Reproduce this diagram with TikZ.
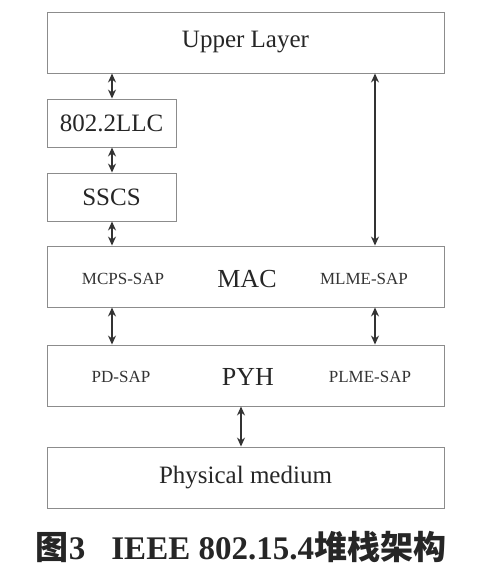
\documentclass[tikz,border=0pt]{standalone}
\usepackage{fontspec}
\setmainfont{Liberation Serif}
\newfontfamily\cjk{Noto Sans CJK SC}
\usetikzlibrary{arrows.meta}
\begin{document}
\begin{tikzpicture}[x=1pt,y=-1pt,
  box/.style={draw=black!45,line width=0.9pt,inner sep=0pt,anchor=center,font=\fontsize{25}{30}\selectfont,text=black!85},
  lbl/.style={font=\fontsize{17}{20}\selectfont,text=black!80,inner sep=0pt},
  big/.style={font=\fontsize{26}{30}\selectfont,text=black!85,inner sep=0pt},
  arr/.style={{Stealth[length=9pt,width=8pt]}-{Stealth[length=9pt,width=8pt]},line width=1.3pt,draw=black!80}]
\useasboundingbox (0,0) rectangle (477,574);
\node[box,minimum width=397pt,minimum height=61pt] (up) at (245.5,42.5) {Upper Layer};
\node[box,minimum width=129pt,minimum height=48pt] (llc) at (111.5,123) {802.2LLC};
\node[box,minimum width=129pt,minimum height=48pt] (sscs) at (111.5,197) {SSCS};
\node[box,minimum width=397pt,minimum height=61pt] (mac) at (245.5,276.5) {};
\node[box,minimum width=397pt,minimum height=61pt] (pyh) at (245.5,375.5) {};
\node[box,minimum width=397pt,minimum height=61pt] (phy) at (245.5,477.5) {Physical medium};
\node[lbl] (mcps) at (123,279) {MCPS-SAP};
\node[big] (macl) at (247,279) {MAC};
\node[lbl] (mlme) at (364,279) {MLME-SAP};
\node[lbl] (pd) at (121,377) {PD-SAP};
\node[big] (pyhl) at (248,377) {PYH};
\node[lbl] (plme) at (370,377) {PLME-SAP};
\draw[arr] (up.south -| 112,0) -- (llc.north -| 112,0);
\draw[arr] (llc.south -| 112,0) -- (sscs.north -| 112,0);
\draw[arr] (sscs.south -| 112,0) -- (mac.north -| 112,0);
\draw[arr] (mac.south -| 112,0) -- (pyh.north -| 112,0);
\draw[arr] (up.south -| 375,0) -- (mac.north -| 375,0);
\draw[arr] (mac.south -| 375,0) -- (pyh.north -| 375,0);
\draw[arr] (pyh.south -| 241,0) -- (phy.north -| 241,0);
\node[inner sep=0pt,font=\fontsize{33}{38}\selectfont\bfseries,text=black!85] (cap) at (241,547)
  {{\cjk 图}3\hspace{26pt}IEEE 802.15.4{\cjk 堆栈架构}};
\end{tikzpicture}
\end{document}
